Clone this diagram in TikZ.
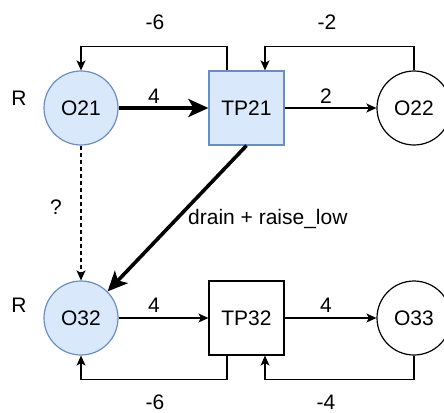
\documentclass[tikz,border=0pt]{standalone}
\usepackage{fontspec}
\setmainfont{Liberation Sans}
\usetikzlibrary{arrows.meta}
\definecolor{nodefill}{HTML}{DAE8FC}
\definecolor{nodeline}{HTML}{6C8EBF}
\tikzset{
  lbl/.style={inner sep=0pt, font=\fontsize{21}{25}\selectfont},
  circ/.style={circle, draw=black, line width=1.2pt, minimum size=74pt, inner sep=0pt, lbl},
  boxnode/.style={rectangle, draw=black, line width=1.2pt, minimum width=75pt, minimum height=74pt, inner sep=0pt, lbl},
  hl/.style={fill=nodefill, draw=nodeline},
  arr/.style={line width=1.3pt, -{Stealth[length=10pt, width=9pt, inset=2.5pt]}},
  thickarr/.style={line width=3.6pt, -{Stealth[length=20pt, width=18pt, inset=5pt]}},
  dasharr/.style={arr, dash pattern=on 4pt off 3pt}
}
\begin{document}
\begin{tikzpicture}[x=1pt, y=-1pt]
  \useasboundingbox (0,0) rectangle (444,412);

  % upper row
  \node[circ, hl]    (O21)  at (81,108)    {O21};
  \node[boxnode, hl] (TP21) at (246.5,108) {TP21};
  \node[circ]        (O22)  at (414,108)   {O22};

  % lower row
  \node[circ, hl]    (O32)  at (81,318)    {O32};
  \node[boxnode]     (TP32) at (246.5,318) {TP32};
  \node[circ]        (O33)  at (414,318)   {O33};

  % forward flows
  \draw[thickarr] (O21) -- (TP21);
  \draw[arr] (TP21) -- (O22);
  \draw[arr] (O32) -- (TP32);
  \draw[arr] (TP32) -- (O33);

  % feedback loops
  \draw[arr] ([xshift=-19.5pt]TP21.north) -- ++(0,-24) -| (O21.north);
  \draw[arr] (O22.north) -- ++(0,-24) -| ([xshift=18.5pt]TP21.north);
  \draw[arr] ([xshift=-19.5pt]TP32.south) -- ++(0,24) -| (O32.south);
  \draw[arr] (O33.south) -- ++(0,24) -| ([xshift=18.5pt]TP32.south);

  % cross links
  \draw[dasharr] (O21.south) -- (O32.north);
  \draw[thickarr] (TP21.south) -- (O32.45);

  % labels
  \node[lbl] (l1) at (155,22.5) {-6};
  \node[lbl] (l2) at (327,22.5) {-2};
  \node[lbl] (l3) at (154,96.5) {4};
  \node[lbl] (l4) at (326,96.5) {2};
  \node[lbl] (l5) at (154,305) {4};
  \node[lbl] (l6) at (326,305) {4};
  \node[lbl] (l7) at (155,402.5) {-6};
  \node[lbl] (l8) at (326,402.5) {-4};
  \node[lbl] (r1) at (19,98) {R};
  \node[lbl] (r2) at (19,305) {R};
  \node[lbl] (q)  at (56,207) {?};
  \node[lbl, anchor=base west] (dr) at (188,224.5) {drain + raise\_low};
\end{tikzpicture}
\end{document}
